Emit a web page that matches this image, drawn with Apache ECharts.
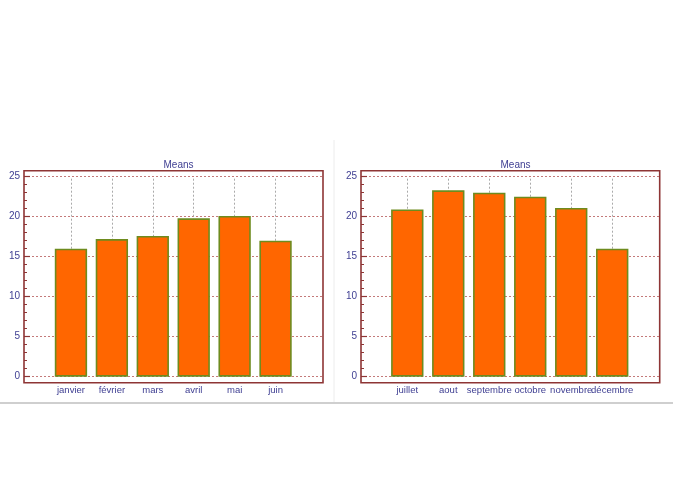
<!DOCTYPE html>
<html>
<head>
<meta charset="utf-8">
<script src="https://cdn.jsdelivr.net/npm/echarts@6/dist/echarts.min.js"></script>
<style>
html,body{margin:0;padding:0;background:#fff;}
#main{width:673px;height:504px;}
</style>
</head>
<body>
<div id="main"></div>
<script>
var titleText = 'Means';
var monthsA = ['janvier', 'février', 'mars', 'avril', 'mai', 'juin'];
var valuesA = [16.0, 17.2, 17.6, 19.8, 20.1, 17.0];
var monthsB = ['juillet', 'aout', 'septembre', 'octobre', 'novembre', 'décembre'];
var valuesB = [20.9, 23.3, 23.0, 22.5, 21.1, 16.0];
var yTicks = [0, 5, 10, 15, 20, 25];

var textColor = '#3e3e92';
var frameColor = '#8e3535';
var font = 'Liberation Sans, Arial, sans-serif';
var yMin = yTicks[0], yMax = yTicks[yTicks.length - 1];

var chart = echarts.init(document.getElementById('main'), null, {renderer: 'canvas'});

function scaleY(gi) {
  return {
    type: 'value', gridIndex: gi, min: yMin, max: yMax, interval: 5,
    axisLine: {show: false},
    axisTick: {show: true, inside: true, length: 6, lineStyle: {color: frameColor, width: 1.2}},
    minorTick: {show: true, splitNumber: 5, length: 3, lineStyle: {color: frameColor, width: 1}},
    axisLabel: {color: textColor, fontSize: 10, fontFamily: font, margin: 4},
    splitLine: {show: true, lineStyle: {color: '#c47a7a', type: [2, 2], width: 1}}
  };
}
function barY(gi) {
  return {type: 'value', gridIndex: gi, min: yMin, max: yMax, show: false, splitLine: {show: false}};
}
function barX(gi, cats) {
  return {
    type: 'category', gridIndex: gi, data: cats,
    axisLine: {show: false}, axisTick: {show: false},
    axisLabel: {color: textColor, fontSize: 9.5, fontFamily: font, margin: 9, interval: 0, hideOverlap: false},
    splitLine: {show: false}
  };
}
function hiddenAxis(gi) {
  return {type: 'value', gridIndex: gi, show: false, min: 0, max: 1, splitLine: {show: false}};
}
function barSeries(gi, vals, cats) {
  return {
    type: 'bar', xAxisIndex: gi, yAxisIndex: gi, data: vals, barWidth: '79%', z: 3,
    itemStyle: {color: '#ff6600', borderColor: '#6e8b1e', borderWidth: 1.6},
    markLine: {
      silent: true, symbol: 'none', z: 1, label: {show: false},
      lineStyle: {color: '#aaaaaa', type: [2, 2], width: 1},
      data: cats.map(function (c) { return {xAxis: c}; })
    }
  };
}
var titleStyle = {color: textColor, fontSize: 10, fontWeight: 'normal', fontFamily: font};

chart.setOption({
  animation: false,
  backgroundColor: '#ffffff',
  title: [
    {text: titleText, left: 173.5, top: 155, textAlign: 'center', textStyle: titleStyle},
    {text: titleText, left: 510.5, top: 155, textAlign: 'center', textStyle: titleStyle}
  ],
  graphic: [
    {type: 'line', shape: {x1: 0, y1: 403, x2: 673, y2: 403}, style: {stroke: '#cfcfcf', lineWidth: 2}, z: -1},
    {type: 'line', shape: {x1: 334, y1: 140, x2: 334, y2: 402}, style: {stroke: '#ececec', lineWidth: 1}, z: -1}
  ],
  grid: [
    // 0,1: bar grids
    {left: 50.5, right: 377, top: 176.7, bottom: 127.3},
    {left: 386.8, right: 40.3, top: 176.7, bottom: 127.3},
    // 2,3: scale grids (y axis + horizontal grid lines)
    {left: 24, right: 350, top: 176.7, bottom: 127.3},
    {left: 361, right: 13.3, top: 176.7, bottom: 127.3},
    // 4,5: frames
    {left: 24, right: 350, top: 170.7, bottom: 121.3, show: true, borderColor: frameColor, borderWidth: 1.6, backgroundColor: 'transparent', z: 5},
    {left: 361, right: 13.3, top: 170.7, bottom: 121.3, show: true, borderColor: frameColor, borderWidth: 1.6, backgroundColor: 'transparent', z: 5}
  ],
  xAxis: [barX(0, monthsA), barX(1, monthsB), hiddenAxis(2), hiddenAxis(3), hiddenAxis(4), hiddenAxis(5)],
  yAxis: [barY(0), barY(1), scaleY(2), scaleY(3), hiddenAxis(4), hiddenAxis(5)],
  series: [barSeries(0, valuesA, monthsA), barSeries(1, valuesB, monthsB)]
});
</script>
</body>
</html>
